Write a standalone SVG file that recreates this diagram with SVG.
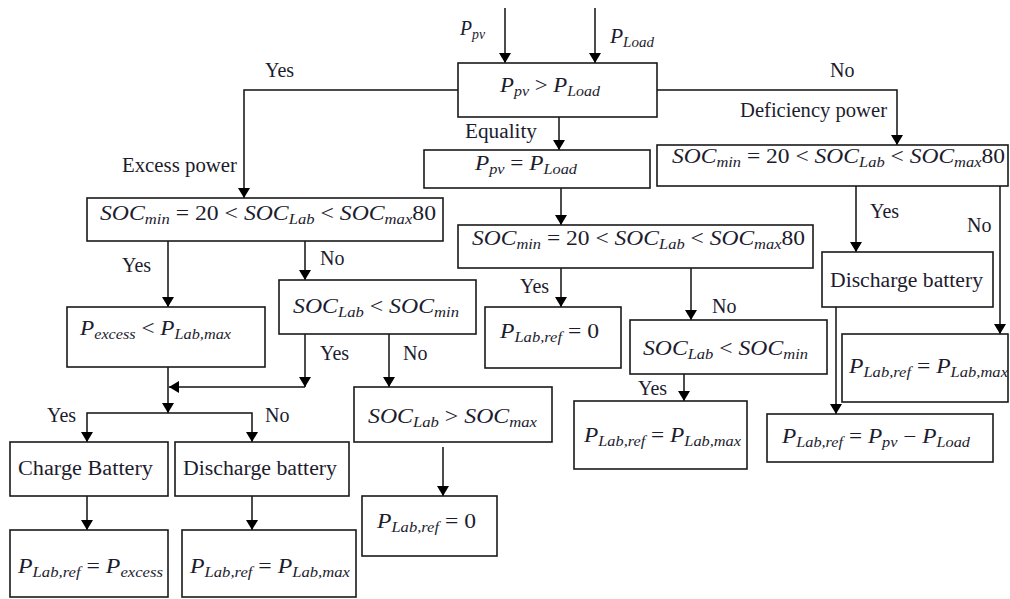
<svg xmlns="http://www.w3.org/2000/svg" width="1010" height="599" viewBox="0 0 1010 599">
<style>
.b{fill:#fff;stroke:#1a1a1a;stroke-width:1.6}
.c{fill:none;stroke:#111;stroke-width:1.5}
.t{font-family:"Liberation Serif","DejaVu Serif",serif;font-size:20px;fill:#1c1c2e}
.m{font-family:"Liberation Serif","DejaVu Serif",serif;font-size:20px;font-style:italic;fill:#1c1c2e}
.u{font-style:normal}
.s{font-size:14px}
</style>
<defs>
<marker id="ah" viewBox="0 0 10 12" refX="10" refY="6" markerWidth="10" markerHeight="12" markerUnits="userSpaceOnUse" orient="auto">
<path d="M0,0 L10,6 L0,12 Z" fill="#000"/>
</marker>
</defs>
<rect width="1010" height="599" fill="#fff"/>
<g id="connectors" class="c" marker-end="url(#ah)">
<path d="M505,8 V63"/>
<path d="M595,8 V63"/>
<path d="M458,90 H244 V198"/>
<path d="M657,90 H897 V145"/>
<path d="M559,117 V150"/>
<path d="M561,188 V225"/>
<path d="M168,241 V307"/>
<path d="M305,241 V280"/>
<path d="M305,334 V387"/>
<path d="M305,387 H169"/>
<path d="M389,334 V387"/>
<path d="M168,367 V413"/>
<path d="M168,413 H87 V442"/>
<path d="M168,413 H252 V442"/>
<path d="M87,496 V530"/>
<path d="M252,496 V530"/>
<path d="M443,447 V496"/>
<path d="M561,268 V307"/>
<path d="M691,268 V320"/>
<path d="M684,374 V401"/>
<path d="M856,186 V252"/>
<path d="M1000,186 V334"/>
<path d="M836,307 V414"/>
</g>
<g id="labels">
<text class="m" x="460" y="35" textLength="25" lengthAdjust="spacingAndGlyphs">P<tspan class="s" dy="4">pv</tspan></text>
<text class="m" x="610" y="43" textLength="44" lengthAdjust="spacingAndGlyphs">P<tspan class="s" dy="4">Load</tspan></text>
<text class="t" x="265" y="77">Yes</text>
<text class="t" x="830" y="77">No</text>
<text class="t" x="740" y="117" textLength="147" lengthAdjust="spacingAndGlyphs">Deficiency power</text>
<text class="t" x="122" y="172" textLength="115" lengthAdjust="spacingAndGlyphs">Excess power</text>
<text class="t" x="465" y="138" textLength="72" lengthAdjust="spacingAndGlyphs">Equality</text>
<text class="t" x="122" y="272">Yes</text>
<text class="t" x="320" y="265">No</text>
<text class="t" x="320" y="360">Yes</text>
<text class="t" x="403" y="360">No</text>
<text class="t" x="520" y="293">Yes</text>
<text class="t" x="712" y="313">No</text>
<text class="t" x="638" y="395">Yes</text>
<text class="t" x="870" y="218">Yes</text>
<text class="t" x="967" y="232">No</text>
<text class="t" x="47" y="422">Yes</text>
<text class="t" x="265" y="422">No</text>
</g>
<g id="n_top"><rect class="b" x="458" y="63" width="199" height="54"/>
<text class="m" x="500" y="92" textLength="100" lengthAdjust="spacingAndGlyphs">P<tspan class="s" dy="4">pv</tspan><tspan class="u" dy="-4"> &gt; </tspan>P<tspan class="s" dy="4">Load</tspan></text></g>
<g id="n_eq"><rect class="b" x="424" y="150" width="226" height="38"/>
<text class="m" x="475" y="170" textLength="102" lengthAdjust="spacingAndGlyphs">P<tspan class="s" dy="4">pv</tspan><tspan class="u" dy="-4"> = </tspan>P<tspan class="s" dy="4">Load</tspan></text></g>
<g id="n_socR"><rect class="b" x="657" y="145" width="351" height="41"/>
<text class="m" x="672" y="163" textLength="333" lengthAdjust="spacingAndGlyphs">SOC<tspan class="s" dy="4">min</tspan><tspan class="u" dy="-4"> = 20 &lt; </tspan>SOC<tspan class="s" dy="4">Lab</tspan><tspan class="u" dy="-4"> &lt; </tspan>SOC<tspan class="s" dy="4">max</tspan><tspan class="u" dy="-4">80</tspan></text></g>
<g id="n_socL"><rect class="b" x="87" y="198" width="356" height="43"/>
<text class="m" x="100" y="220" textLength="336" lengthAdjust="spacingAndGlyphs">SOC<tspan class="s" dy="4">min</tspan><tspan class="u" dy="-4"> = 20 &lt; </tspan>SOC<tspan class="s" dy="4">Lab</tspan><tspan class="u" dy="-4"> &lt; </tspan>SOC<tspan class="s" dy="4">max</tspan><tspan class="u" dy="-4">80</tspan></text></g>
<g id="n_socM"><rect class="b" x="458" y="225" width="355" height="43"/>
<text class="m" x="472" y="245" textLength="333" lengthAdjust="spacingAndGlyphs">SOC<tspan class="s" dy="4">min</tspan><tspan class="u" dy="-4"> = 20 &lt; </tspan>SOC<tspan class="s" dy="4">Lab</tspan><tspan class="u" dy="-4"> &lt; </tspan>SOC<tspan class="s" dy="4">max</tspan><tspan class="u" dy="-4">80</tspan></text></g>
<g id="n_pexc"><rect class="b" x="67" y="307" width="198" height="60"/>
<text class="m" x="80" y="335" textLength="151" lengthAdjust="spacingAndGlyphs">P<tspan class="s" dy="4">excess</tspan><tspan class="u" dy="-4"> &lt; </tspan>P<tspan class="s" dy="4">Lab,max</tspan></text></g>
<g id="n_socltL"><rect class="b" x="279" y="280" width="197" height="54"/>
<text class="m" x="293" y="313" textLength="166" lengthAdjust="spacingAndGlyphs">SOC<tspan class="s" dy="4">Lab</tspan><tspan class="u" dy="-4"> &lt; </tspan>SOC<tspan class="s" dy="4">min</tspan></text></g>
<g id="n_socgt"><rect class="b" x="354" y="387" width="198" height="55"/>
<text class="m" x="368" y="423" textLength="169" lengthAdjust="spacingAndGlyphs">SOC<tspan class="s" dy="4">Lab</tspan><tspan class="u" dy="-4"> &gt; </tspan>SOC<tspan class="s" dy="4">max</tspan></text></g>
<g id="n_ref0a"><rect class="b" x="485" y="307" width="136" height="61"/>
<text class="m" x="500" y="338" textLength="99" lengthAdjust="spacingAndGlyphs">P<tspan class="s" dy="4">Lab,ref</tspan><tspan class="u" dy="-4"> = 0</tspan></text></g>
<g id="n_socltM"><rect class="b" x="630" y="320" width="197" height="54"/>
<text class="m" x="643" y="355" textLength="165" lengthAdjust="spacingAndGlyphs">SOC<tspan class="s" dy="4">Lab</tspan><tspan class="u" dy="-4"> &lt; </tspan>SOC<tspan class="s" dy="4">min</tspan></text></g>
<g id="n_refmaxM"><rect class="b" x="574" y="401" width="173" height="68"/>
<text class="m" x="584" y="442" textLength="157" lengthAdjust="spacingAndGlyphs">P<tspan class="s" dy="4">Lab,ref</tspan><tspan class="u" dy="-4"> = </tspan>P<tspan class="s" dy="4">Lab,max</tspan></text></g>
<g id="n_disR"><rect class="b" x="822" y="252" width="171" height="55"/>
<text class="t" x="830" y="287" textLength="153" lengthAdjust="spacingAndGlyphs">Discharge battery</text></g>
<g id="n_refmaxR"><rect class="b" x="842" y="334" width="166" height="68"/>
<text class="m" x="849" y="373" textLength="159" lengthAdjust="spacingAndGlyphs">P<tspan class="s" dy="4">Lab,ref</tspan><tspan class="u" dy="-4"> = </tspan>P<tspan class="s" dy="4">Lab,max</tspan></text></g>
<g id="n_refpv"><rect class="b" x="767" y="414" width="226" height="48"/>
<text class="m" x="782" y="443" textLength="188" lengthAdjust="spacingAndGlyphs">P<tspan class="s" dy="4">Lab,ref</tspan><tspan class="u" dy="-4"> = </tspan>P<tspan class="s" dy="4">pv</tspan><tspan class="u" dy="-4"> − </tspan>P<tspan class="s" dy="4">Load</tspan></text></g>
<g id="n_charge"><rect class="b" x="10" y="442" width="158" height="54"/>
<text class="t" x="18" y="475" textLength="135" lengthAdjust="spacingAndGlyphs">Charge Battery</text></g>
<g id="n_disL"><rect class="b" x="175" y="442" width="174" height="54"/>
<text class="t" x="183" y="475" textLength="154" lengthAdjust="spacingAndGlyphs">Discharge battery</text></g>
<g id="n_refexc"><rect class="b" x="10" y="530" width="158" height="67"/>
<text class="m" x="18" y="573" textLength="145" lengthAdjust="spacingAndGlyphs">P<tspan class="s" dy="4">Lab,ref</tspan><tspan class="u" dy="-4"> = </tspan>P<tspan class="s" dy="4">excess</tspan></text></g>
<g id="n_refmaxL"><rect class="b" x="182" y="530" width="174" height="67"/>
<text class="m" x="190" y="573" textLength="160" lengthAdjust="spacingAndGlyphs">P<tspan class="s" dy="4">Lab,ref</tspan><tspan class="u" dy="-4"> = </tspan>P<tspan class="s" dy="4">Lab,max</tspan></text></g>
<g id="n_ref0b"><rect class="b" x="362" y="496" width="135" height="60"/>
<text class="m" x="377" y="528" textLength="99" lengthAdjust="spacingAndGlyphs">P<tspan class="s" dy="4">Lab,ref</tspan><tspan class="u" dy="-4"> = 0</tspan></text></g>
</svg>
